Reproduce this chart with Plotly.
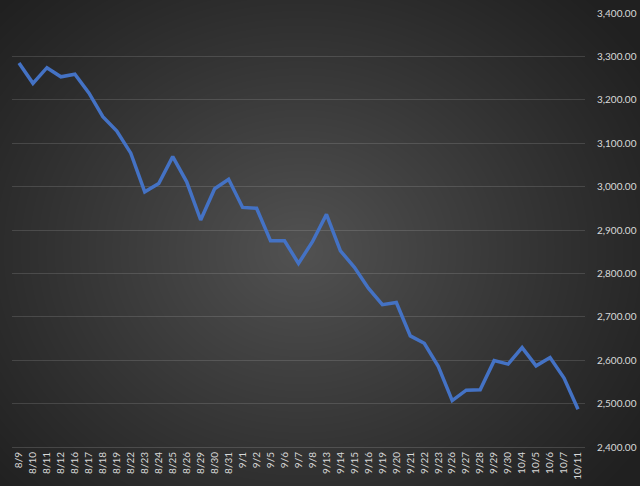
import base64, struct, zlib
import numpy as np
import plotly.graph_objects as go

dates = ["8/9", "8/10", "8/11", "8/12", "8/16", "8/17", "8/18", "8/19", "8/22", "8/23",
         "8/24", "8/25", "8/26", "8/29", "8/30", "8/31", "9/1", "9/2", "9/5", "9/6",
         "9/7", "9/8", "9/13", "9/14", "9/15", "9/16", "9/19", "9/20", "9/21", "9/22",
         "9/23", "9/26", "9/27", "9/28", "9/29", "9/30", "10/4", "10/5", "10/6", "10/7",
         "10/11"]
values = [3285, 3238, 3274, 3253, 3259, 3216, 3161, 3128, 3077, 2988,
          3007, 3069, 3011, 2923, 2995, 3017, 2952, 2950, 2875, 2875,
          2823, 2873, 2936, 2852, 2814, 2766, 2728, 2733, 2656, 2639,
          2586, 2507, 2531, 2532, 2599, 2591, 2629, 2587, 2606, 2559,
          2487]
y_ticks = [2400, 2500, 2600, 2700, 2800, 2900, 3000, 3100, 3200, 3300, 3400]

W, H = 640, 486
ML, MR, MT, MB = 12, 55, 13, 39
PW, PH = W - ML - MR, H - MT - MB


def gradient_png(w, h):
    yy, xx = np.mgrid[0:h, 0:w].astype(float)
    cx, cy = 300.0, 250.0
    d = np.sqrt(((xx - cx) / 420.0) ** 2 + ((yy - cy) / 360.0) ** 2)
    d = np.clip(d, 0, 1)
    c_in, c_out = 82.0, 32.0
    val = c_out + (c_in - c_out) * (1 - d) ** 1.1
    img = np.clip(val, 0, 255).astype(np.uint8)
    rgb = np.stack([img, img, img], axis=-1)
    raw = b"".join(b"\x00" + rgb[r].tobytes() for r in range(h))

    def chunk(tag, data):
        c = struct.pack(">I", len(data)) + tag + data
        return c + struct.pack(">I", zlib.crc32(tag + data) & 0xffffffff)

    png = b"\x89PNG\r\n\x1a\n"
    png += chunk(b"IHDR", struct.pack(">IIBBBBB", w, h, 8, 2, 0, 0, 0))
    png += chunk(b"IDAT", zlib.compress(raw, 9))
    png += chunk(b"IEND", b"")
    return "data:image/png;base64," + base64.b64encode(png).decode()


fig = go.Figure()
fig.add_trace(go.Scatter(
    x=dates, y=values, mode="lines",
    line=dict(color="#4472C4", width=3.5),
    hoverinfo="x+y",
))

font_family = "Lato, 'Open Sans', sans-serif"
fig.update_layout(
    width=W, height=H,
    margin=dict(l=ML, r=MR, t=MT, b=MB, pad=0, autoexpand=False),
    paper_bgcolor="#262626",
    plot_bgcolor="rgba(0,0,0,0)",
    showlegend=False,
    font=dict(family=font_family, size=10, color="#D9D9D9"),
    images=[dict(
        source=gradient_png(W, H),
        xref="paper", yref="paper",
        x=-ML / PW, y=1 + MT / PH,
        sizex=W / PW, sizey=H / PH,
        xanchor="left", yanchor="top",
        sizing="stretch", layer="below",
    )],
    xaxis=dict(
        type="category",
        tickangle=-90,
        automargin=False,
        showgrid=False,
        showline=True,
        linecolor="rgba(217,217,217,0.18)",
        linewidth=1,
        ticks="",
        tickfont=dict(size=10, color="#D9D9D9"),
        range=[-0.5, len(dates) - 0.5],
    ),
    yaxis=dict(
        side="right",
        automargin=False,
        range=[2400, 3400],
        tickvals=y_ticks,
        ticktext=[f"{v:,.2f}" for v in y_ticks],
        showgrid=True,
        gridcolor="rgba(217,217,217,0.16)",
        gridwidth=1,
        zeroline=False,
        ticks="",
        ticklabelstandoff=11,
        tickfont=dict(size=10, color="#D9D9D9"),
    ),
)

fig.write_html("out.html")
